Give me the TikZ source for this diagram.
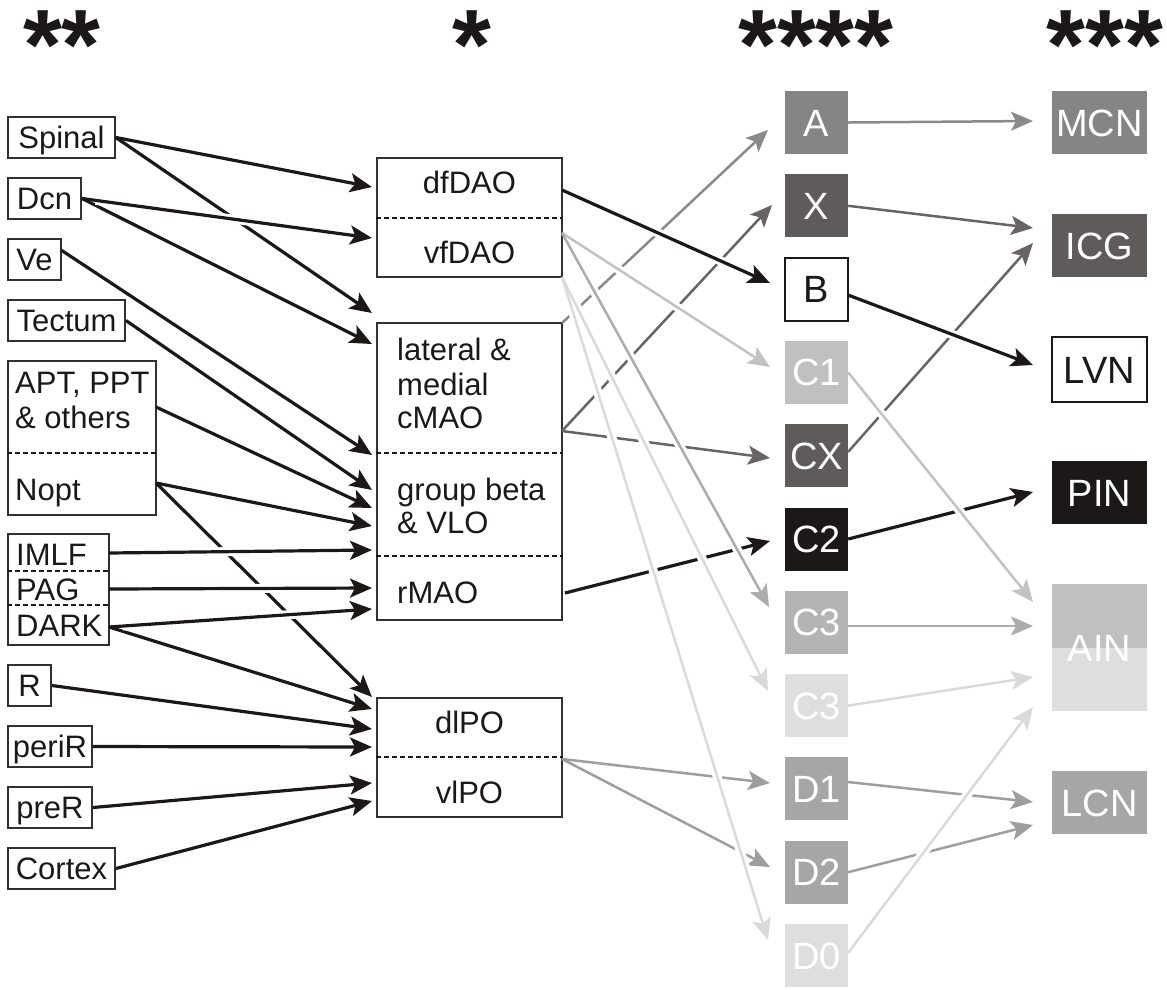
\documentclass[tikz,border=0pt]{standalone}
\usepackage{fontspec}
\setmainfont{Liberation Sans}
\usetikzlibrary{arrows.meta}
\definecolor{ink}{HTML}{1C1818}
\definecolor{edgegray}{HTML}{333030}
\definecolor{cellA}{HTML}{858585}
\definecolor{cellX}{HTML}{5F5B5B}
\definecolor{cellC}{HTML}{C0C0C0}
\definecolor{cellCc}{HTML}{B4B4B4}
\definecolor{cellPale}{HTML}{DEDEDE}
\definecolor{cellD}{HTML}{A6A6A6}
\definecolor{lnA}{HTML}{8A8A8A}
\definecolor{lnX}{HTML}{686464}
\definecolor{lnC}{HTML}{C2C2C2}
\definecolor{lnCc}{HTML}{ACACAC}
\definecolor{lnPale}{HTML}{DADADA}
\definecolor{lnD}{HTML}{9E9E9E}
\begin{document}
\begin{tikzpicture}[x=1pt,y=-1pt,
  txt/.style={inner sep=0pt, text=ink, font=\fontsize{31}{34}\selectfont},
  srcbox/.style={txt, draw=edgegray, line width=1.8pt, minimum height=41pt, text height=22pt, text depth=0pt},
  panel/.style={draw=edgegray, line width=1.8pt, inner sep=0pt},
  divider/.style={draw=ink, line width=2.2pt, dash pattern=on 5pt off 3pt},
  cellbox/.style={inner sep=0pt, minimum width=63pt, minimum height=63pt, text height=27pt, text depth=0pt, text=white, font=\fontsize{38}{40}\selectfont},
  nucbox/.style={cellbox, minimum width=95pt},
  stars/.style={inner sep=0pt, anchor=base, text=ink, font=\fontsize{100}{100}\selectfont\bfseries},
  arr/.style={-{Stealth[length=22pt, width=19pt, inset=5pt]}},
  blk/.style={arr, draw=ink, line width=3.2pt},
  gl/.style={arr, draw=#1, line width=2.5pt},
  halo/.style={draw=white, line width=9pt, shorten <=14pt, shorten >=26pt},
]
\useasboundingbox (0,0) rectangle (1167,989);

% ---- significance marks above the columns
\node[stars] (st1) at (62,79) {**};
\node[stars] (st2) at (472,79) {*};
\node[stars] (st3) at (816,79) {****};
\node[stars] (st4) at (1105,79) {***};

% ---- afferent sources
\node[srcbox, minimum width=107pt] (spinal) at (61.5,137.5) {Spinal};
\node[srcbox, minimum width=73pt]  (dcn)    at (44.5,198.5) {Dcn};
\node[srcbox, minimum width=53pt]  (ve)     at (34.5,259.5) {Ve};
\node[srcbox, minimum width=117pt] (tectum) at (66.5,320.5) {Tectum};
\node[panel, minimum width=148pt, minimum height=154pt] (aptbox) at (82,438) {};
\node[txt, anchor=base west] (apt)    at (15,393) {APT, PPT};
\node[txt, anchor=base west] (others) at (15,428) {\& others};
\node[txt, anchor=base west] (nopt)   at (15,500) {Nopt};
\draw[divider] (aptbox.west |- 0,453) -- (aptbox.east |- 0,453);
\node[panel, minimum width=101pt, minimum height=111pt] (relay) at (58.5,589.5) {};
\node[txt, anchor=base west] (imlf) at (16,565) {IMLF};
\node[txt, anchor=base west] (pag)  at (16,600) {PAG};
\node[txt, anchor=base west] (dark) at (16,636) {DARK};
\draw[divider] (relay.west |- 0,571) -- (relay.east |- 0,571);
\draw[divider] (relay.west |- 0,605) -- (relay.east |- 0,605);
\node[srcbox, minimum width=43pt]  (r)      at (29.5,685.5) {R};
\node[srcbox, minimum width=84pt]  (perir)  at (50,746.5) {periR};
\node[srcbox, minimum width=84pt]  (prer)   at (50,807.5) {preR};
\node[srcbox, minimum width=107pt] (cortex) at (61.5,868.5) {Cortex};

% ---- inferior olive subdivisions
\node[panel, minimum width=185pt, minimum height=119pt] (dao) at (469.5,217.5) {};
\draw[divider] (dao.west |- 0,218) -- (dao.east |- 0,218);
\node[txt, anchor=base] (dfdao) at (469.5,193) {dfDAO};
\node[txt, anchor=base] (vfdao) at (469.5,263) {vfDAO};
\node[panel, minimum width=185pt, minimum height=297pt] (mao) at (469.5,471.5) {};
\draw[divider] (mao.west |- 0,453) -- (mao.east |- 0,453);
\draw[divider] (mao.west |- 0,556) -- (mao.east |- 0,556);
\node[txt, anchor=base west] (lat)   at (397,360) {lateral \&};
\node[txt, anchor=base west] (med)   at (397,395) {medial};
\node[txt, anchor=base west] (cmao)  at (397,428) {cMAO};
\node[txt, anchor=base west] (gbeta) at (397,500) {group beta};
\node[txt, anchor=base west] (vlo)   at (397,533) {\& VLO};
\node[txt, anchor=base west] (rmao)  at (397,603) {rMAO};
\node[panel, minimum width=185pt, minimum height=119pt] (po) at (469.5,757.5) {};
\draw[divider] (po.west |- 0,757) -- (po.east |- 0,757);
\node[txt, anchor=base] (dlpo) at (469.5,733) {dlPO};
\node[txt, anchor=base] (vlpo) at (469.5,803) {vlPO};

% ---- cerebellar zones
\node[cellbox, fill=cellA] (A) at (816.5,122.5) {A};
\node[cellbox, fill=cellX] (X) at (816.5,205.8) {X};
\node[cellbox, fill=white, draw=ink, line width=1.8pt, text=ink] (B) at (816.5,289.1) {B};
\node[cellbox, fill=cellC] (C1) at (816.5,372.4) {C1};
\node[cellbox, fill=cellX] (CX) at (816.5,455.7) {CX};
\node[cellbox, fill=ink] (C2) at (816.5,539) {C2};
\node[cellbox, fill=cellCc] (C3a) at (816.5,622.3) {C3};
\node[cellbox, fill=cellPale] (C3b) at (816.5,705.6) {C3};
\node[cellbox, fill=cellD] (D1) at (816.5,788.9) {D1};
\node[cellbox, fill=cellD] (D2) at (816.5,872.2) {D2};
\node[cellbox, fill=cellPale] (D0) at (816.5,955.5) {D0};

% ---- target nuclei
\node[nucbox, fill=cellA] (MCN) at (1099.5,122.5) {MCN};
\node[nucbox, fill=cellX] (ICG) at (1099.5,245.5) {ICG};
\node[nucbox, fill=white, draw=ink, line width=1.8pt, text=ink, minimum height=65pt] (LVN) at (1099.5,369.5) {LVN};
\node[nucbox, fill=ink] (PIN) at (1099.5,492.5) {PIN};
\node[nucbox, minimum height=127pt, fill=cellPale,
  path picture={\fill[cellC] (path picture bounding box.north west) rectangle (path picture bounding box.east);}] (AIN) at (1099.5,647.5) {AIN};
\node[nucbox, fill=cellD] (LCN) at (1099.5,802.5) {LCN};

% ---- connector end points
\coordinate (ve-o)   at (61,250);
\coordinate (apt-o)  at (156,407);
\coordinate (nopt-o) at (156,483);
\coordinate (imlf-o) at (109,553);
\coordinate (pag-o)  at (109,589);
\coordinate (dark-o) at (109,627);
\coordinate (t1)  at (372,187);
\coordinate (t2)  at (372,238);
\coordinate (t3)  at (372,313);
\coordinate (t4)  at (372,344);
\coordinate (t5)  at (372,455);
\coordinate (t6)  at (372,490);
\coordinate (t7)  at (372,508);
\coordinate (t8)  at (372,526);
\coordinate (t9)  at (372,550);
\coordinate (t10) at (372,588);
\coordinate (t11) at (372,609);
\coordinate (t12) at (372,697);
\coordinate (t13) at (372,709);
\coordinate (t14) at (372,729);
\coordinate (t15) at (372,747);
\coordinate (t16) at (372,783);
\coordinate (t17) at (372,801);
\coordinate (m-df)  at (562,190);
\coordinate (m-vf)  at (562,233);
\coordinate (m-vfc) at (562,277);
\coordinate (m-cm)  at (562,323);
\coordinate (m-cx)  at (562,431);
\coordinate (m-r)   at (565,593);
\coordinate (m-po)  at (562,759);
\coordinate (u-A)   at (768,130);
\coordinate (u-X)   at (772,205);
\coordinate (u-B)   at (770,283);
\coordinate (u-C1)  at (770,367);
\coordinate (u-CX)  at (770,458);
\coordinate (u-C2)  at (770,541);
\coordinate (u-C3a) at (769,607);
\coordinate (u-C3b) at (768,691);
\coordinate (u-D1)  at (770,783);
\coordinate (u-D2)  at (770,867);
\coordinate (u-D0)  at (768,940);
\coordinate (o-B)   at (848,295);
\coordinate (o-CX)  at (848,452);
\coordinate (o-C3a) at (848,626);
\coordinate (o-D1)  at (848,782);
\coordinate (o-D0)  at (848,953);
\coordinate (v-MCN)  at (1033,121);
\coordinate (v-ICG1) at (1033,228);
\coordinate (v-ICG2) at (1033,243);
\coordinate (v-LVN)  at (1033,365);
\coordinate (v-PIN)  at (1033,492);
\coordinate (v-AIN1) at (1033,602);
\coordinate (v-AIN2) at (1033,626);
\coordinate (v-AIN3) at (1033,677);
\coordinate (v-AIN4) at (1033,707);
\coordinate (v-LCN1) at (1033,802);
\coordinate (v-LCN2) at (1033,825);

% ---- lower layer of connectors
\draw[blk] (spinal.east) -- (t1);
\draw[blk] (spinal.east) -- (t3);
\draw[blk] (dcn.east) -- (t4);
\draw[blk] (ve-o) -- (t5);
\draw[blk] (tectum.east) -- (t6);
\draw[blk] (apt-o) -- (t7);
\draw[blk] (nopt-o) -- (t8);
\draw[blk] (nopt-o) -- (t12);
\draw[blk] (dark-o) -- (t13);
\draw[blk] (r.east) -- (t14);
\draw[blk] (perir.east) -- (t15);
\draw[blk] (prer.east) -- (t16);
\draw[blk] (cortex.east) -- (t17);
\draw[gl=lnA] (m-cm) -- (u-A);
\draw[gl=lnX] (m-cx) -- (u-X);
\draw[gl=lnX] (m-cx) -- (u-CX);
\draw[blk] (m-r) -- (u-C2);
\draw[gl=lnD] (m-po) -- (u-D1);
\draw[gl=lnD] (m-po) -- (u-D2);
\draw[gl=lnA] (A.east) -- (v-MCN);
\draw[gl=lnX] (X.east) -- (v-ICG1);
\draw[gl=lnX] (o-CX) -- (v-ICG2);
\draw[blk] (C2.east) -- (v-PIN);
\draw[gl=lnCc] (o-C3a) -- (v-AIN2);
\draw[gl=lnPale] (C3b.east) -- (v-AIN3);
\draw[gl=lnD] (o-D1) -- (v-LCN1);
\draw[gl=lnD] (D2.east) -- (v-LCN2);

% ---- white gaps where the upper layer passes over
\foreach \p/\q in {dcn.east/t2, imlf-o/t9, pag-o/t10, dark-o/t11,
                   m-df/u-B, m-vf/u-C1, m-vf/u-C3a, m-vfc/u-C3b, m-vfc/u-D0,
                   o-B/v-LVN, C1.east/v-AIN1, o-D0/v-AIN4}
  \draw[halo] (\p) -- (\q);

% ---- upper layer of connectors
\draw[blk] (dcn.east) -- (t2);
\draw[blk] (imlf-o) -- (t9);
\draw[blk] (pag-o) -- (t10);
\draw[blk] (dark-o) -- (t11);
\draw[blk] (m-df) -- (u-B);
\draw[gl=lnC] (m-vf) -- (u-C1);
\draw[gl=lnCc] (m-vf) -- (u-C3a);
\draw[gl=lnPale] (m-vfc) -- (u-C3b);
\draw[gl=lnPale] (m-vfc) -- (u-D0);
\draw[blk] (o-B) -- (v-LVN);
\draw[gl=lnC] (C1.east) -- (v-AIN1);
\draw[gl=lnPale] (o-D0) -- (v-AIN4);
\end{tikzpicture}
\end{document}
